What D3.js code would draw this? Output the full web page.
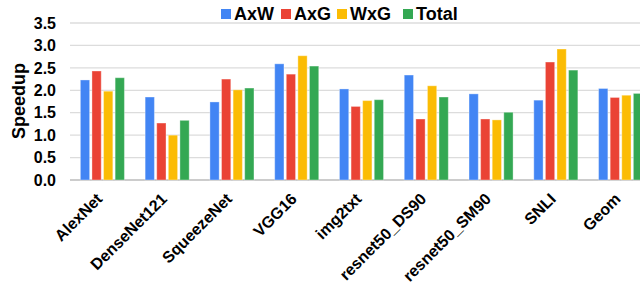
<!DOCTYPE html>
<html>
<head>
<meta charset="utf-8">
<script src="https://cdn.jsdelivr.net/npm/d3@7"></script>
<style>
  body { margin: 0; background: #fff; }
  text { font-family: "Liberation Sans", Arial, sans-serif; font-weight: bold; fill: #000; }
</style>
</head>
<body>
<svg id="chart" width="640" height="286"></svg>
<script>
// data
var categories = ["AlexNet", "DenseNet121", "SqueezeNet", "VGG16", "img2txt",
                  "resnet50_DS90", "resnet50_SM90", "SNLI", "Geom"];
var seriesNames = ["AxW", "AxG", "WxG", "Total"];
var axw   = [2.23, 1.85, 1.74, 2.59, 2.03, 2.34, 1.92, 1.78, 2.04];
var axg   = [2.43, 1.27, 2.25, 2.36, 1.64, 1.36, 1.36, 2.63, 1.84];
var wxg   = [1.98, 1.00, 2.01, 2.77, 1.77, 2.10, 1.34, 2.92, 1.89];
var total = [2.28, 1.33, 2.05, 2.54, 1.79, 1.85, 1.51, 2.45, 1.93];
var yTicks = [0, 0.5, 1, 1.5, 2, 2.5, 3, 3.5];

var seriesValues = [axw, axg, wxg, total];
var colors = ["#4285F4", "#EA4335", "#FBBC04", "#34A853"];

var svg = d3.select("#chart");
var plotLeft = 70, plotRight = 653, plotTop = 23, plotBottom = 180;

var x0 = d3.scaleBand().domain(categories).range([plotLeft, plotRight]).paddingInner(0.32).paddingOuter(0.16);
var x1 = d3.scaleBand().domain(seriesNames).range([0, x0.bandwidth()]).paddingInner(0.2);
var y = d3.scaleLinear().domain([0, 3.5]).range([plotBottom, plotTop]);

// gridlines
svg.append("g").selectAll("line")
  .data(yTicks)
  .enter().append("line")
  .attr("x1", plotLeft).attr("x2", 640)
  .attr("y1", function(d) { return y(d); })
  .attr("y2", function(d) { return y(d); })
  .attr("stroke", function(d) { return d === 0 ? "#cccccc" : "#dcdcdc"; })
  .attr("stroke-width", function(d) { return d === 0 ? 2 : 1.3; });

// y tick labels
svg.append("g").selectAll("text")
  .data(yTicks)
  .enter().append("text")
  .attr("x", 56)
  .attr("y", function(d) { return y(d); })
  .attr("dy", "0.36em")
  .attr("text-anchor", "end")
  .style("font-size", "16px")
  .text(function(d) { return d.toFixed(1); });

// y title
svg.append("text")
  .attr("transform", "translate(25,101) rotate(-90)")
  .attr("text-anchor", "middle")
  .style("font-size", "18px")
  .text("Speedup");

// bars
var groups = svg.append("g").selectAll("g")
  .data(categories)
  .enter().append("g")
  .attr("transform", function(d) { return "translate(" + x0(d) + ",0)"; });

groups.selectAll("rect")
  .data(function(d, i) {
    return seriesNames.map(function(s, j) { return { key: s, value: seriesValues[j][i], color: colors[j] }; });
  })
  .enter().append("rect")
  .attr("x", function(d) { return x1(d.key); })
  .attr("y", function(d) { return y(d.value); })
  .attr("width", x1.bandwidth())
  .attr("height", function(d) { return plotBottom - y(d.value); })
  .attr("fill", function(d) { return d.color; })
  .attr("stroke", "#ffffff")
  .attr("stroke-opacity", 0.35)
  .attr("stroke-width", 1);

// x labels
svg.append("g").selectAll("text")
  .data(categories)
  .enter().append("text")
  .attr("transform", function(d) {
    return "translate(" + (x0(d) + x0.bandwidth() / 2 + 1) + ",200) rotate(-45)";
  })
  .attr("text-anchor", "end")
  .style("font-size", "16px")
  .text(function(d) { return d; });

// legend
var legendX = [221, 281, 337, 403];
var legend = svg.append("g").selectAll("g")
  .data(seriesNames)
  .enter().append("g")
  .attr("transform", function(d, i) { return "translate(" + legendX[i] + ",8)"; });
legend.append("rect")
  .attr("width", 10).attr("height", 10).attr("y", 1)
  .attr("fill", function(d, i) { return colors[i]; });
legend.append("text")
  .attr("x", 13).attr("y", 6)
  .attr("dy", "0.36em")
  .style("font-size", "18px")
  .text(function(d) { return d; });
</script>
</body>
</html>
